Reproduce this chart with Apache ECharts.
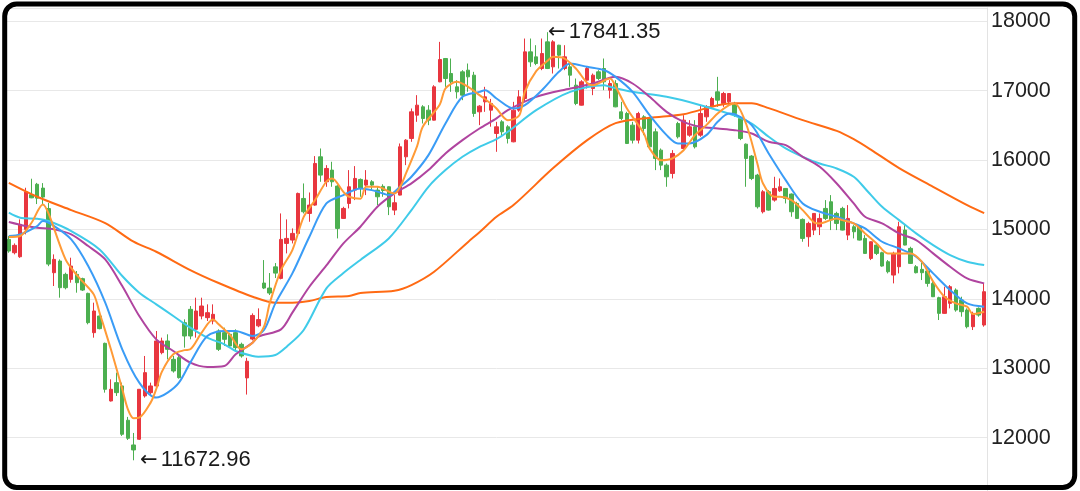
<!DOCTYPE html>
<html><head><meta charset="utf-8">
<script src="https://cdn.jsdelivr.net/npm/echarts@6/dist/echarts.min.js"></script>
<style>html,body{margin:0;padding:0;background:#fff;}#c{width:1080px;height:491px;}</style>
</head><body><div id="c"></div>
<script>
const opens = [14856,14664,14606,15000,15500,15650,15595,15300,14376,14544,14352,14280,14352,14290,14078,13512,13752,13358,12528,12792,12744,12250,11894,11976,12600,12648,12744,13224,13392,13128,13152,13656,13848,13560,13752,13728,13680,13536,13512,13488,13512,13344,12860,13420,13610,14227,14155,14460,14294,14798,14846,14942,15446,15230,15350,16046,15686,15854,15624,15158,15374,15566,15720,15638,15686,15566,15620,15614,15278,15494,16046,16310,16646,16766,16718,16574,17126,17462,17246,17054,17270,17294,17222,16694,16838,16718,16382,16550,16478,16262,16718,16886,17558,17486,17318,17702,17342,17654,17318,17342,17078,16790,17150,17030,17270,17318,17006,17102,16694,16670,16502,16286,16622,16598,16406,16142,15926,15806,16526,16166,16358,16478,16358,16622,16766,16982,16814,16838,16814,16598,16228,16056,15782,15254,15542,15422,15556,15590,15509,15374,15144,14894,14990,15038,15302,15398,15230,15302,14918,15038,15038,14870,14582,14774,14664,14534,14342,14462,14990,14726,14462,14424,14400,14222,14016,13790,13934,14126,13982,13838,13598,13862,13622];
const closes = [14688,14770,15072,15540,15455,15450,15466,14500,14568,14160,14160,14472,14232,14126,13656,13824,13570,12696,12696,12648,12048,11990,11822,12696,12936,12744,13392,13392,13272,12960,12864,13464,13464,13824,13896,13800,13776,13272,13416,13320,13296,13176,13100,13760,13700,14155,14083,14370,14856,14870,14942,15518,15254,15350,15950,15782,15878,15686,15014,15302,15614,15734,15590,15710,15638,15470,15560,15326,15384,16190,16286,16694,16790,16598,16574,17054,17448,17174,17126,16982,16934,17198,16670,16776,16910,16814,16478,16406,16310,16718,16910,17558,17414,17390,17534,17318,17702,17510,17486,17222,16814,17126,17318,17222,17174,17126,17102,16766,16598,16238,16286,16670,16454,16190,16022,15926,15758,16094,16334,16574,16478,16190,16670,16766,16886,16862,16958,16958,16670,16310,16022,15734,15326,15542,15278,15590,15614,15446,15254,15158,14870,15086,15230,15158,15158,15134,15086,14990,15158,14966,14846,14654,14822,14654,14472,14390,14654,15038,14774,14510,14376,14376,14222,14030,13790,14030,14174,13838,13814,13598,13790,13766,14102];
const lows = [14664,14640,14590,14928,15450,15365,15350,14470,14184,14016,14136,14232,14088,14112,13632,13440,13560,12648,12520,12600,12024,11966,11672.96,11966,12576,12600,12696,13200,13128,12936,12850,13296,13416,13440,13704,13680,13632,13248,13320,13296,13248,13152,12620,13400,13590,14140,14054,14300,14280,14654,14798,14930,15230,15110,15340,15686,15614,15614,14870,15150,15302,15422,15470,15494,15566,15350,15470,15206,15206,15490,15926,16262,16550,16526,16502,16570,17120,17054,16982,16886,16862,16982,16622,16502,16694,16480,16118,16334,16238,16255,16694,16838,17342,17366,17294,17310,17246,17318,17294,17054,16790,16785,17030,16934,17150,17006,16886,16760,16574,16230,16238,16238,16358,16166,15854,15854,15614,15734,16310,16142,16334,16166,16334,16550,16742,16766,16766,16790,16622,16286,15614,15710,15300,15230,15270,15400,15540,15374,15182,15150,14822,14750,14918,14918,15134,14990,14990,14985,14846,14870,14840,14650,14558,14630,14462,14366,14222,14366,14770,14505,14366,14270,14174,14025,13694,13785,13862,13814,13742,13574,13550,13742,13598];
const highs = [14904,14798,15144,15600,15730,15670,15667,15380,14640,14568,14376,14592,14400,14304,14088,13944,13760,13368,12840,12936,12792,12298,12067,12700,13176,12792,13536,13440,13488,13176,13176,13704,13896,14016,14016,13920,13920,13560,13584,13512,13560,13368,13150,13790,13862,14558,14371,14515,15230,15144,15014,15530,15662,15532,16056,16166,15926,15974,15638,15326,15854,15912,15734,15854,15710,15614,15650,15620,15494,16238,16300,16742,16934,16790,16790,17078,17702,17470,17462,17150,17294,17390,17270,16790,17054,16880,16550,16574,16502,16838,17006,17750,17750,17654,17750,17841.35,17726,17660,17654,17390,17174,17150,17342,17246,17294,17462,17150,17150,16838,16694,16550,16694,16646,16622,16454,16166,15950,16142,16550,16646,16574,16574,16790,16790,16910,17198,16982,16965,16838,16622,16238,16070,15800,15566,15566,15758,15734,15595,15518,15398,15158,15110,15235,15230,15422,15494,15254,15326,15350,15062,15062,14918,14826,14798,14678,14558,14678,15110,15062,14750,14486,14558,14414,14270,14030,14174,14198,14150,14030,13862,13814,13876,14222];

// moving-average lines as [candle index, value]
const ma5 = [[0,14890],[2,14904],[4,15096],[6,15360],[7,15230],[10,14568],[12,14340],[13,14250],[15,14060],[16,13800],[18,13272],[20,12700],[21,12408],[22,12280],[23,12288],[25,12504],[26,12700],[27,12950],[29,13200],[31,13260],[32,13272],[34,13512],[36,13700],[37,13632],[39,13480],[41,13272],[43,13368],[45,13600],[46,13934],[48,14414],[50,14702],[52,15180],[54,15422],[56,15690],[57,15734],[59,15540],[60,15470],[62,15440],[63,15614],[65,15614],[68,15518],[69,15614],[70,15800],[72,16200],[73,16480],[76,16800],[77,17030],[79,17126],[81,17054],[83,16934],[85,16814],[86,16742],[88,16574],[90,16640],[91,16982],[93,17280],[95,17430],[96,17486],[98,17462],[100,17318],[102,17110],[103,17078],[106,17174],[107,17060],[109,16742],[112,16380],[113,16166],[115,15998],[117,16022],[119,16140],[121,16358],[123,16502],[125,16670],[127,16790],[128,16814],[130,16526],[132,15950],[133,15662],[135,15470],[136,15470],[138,15422],[140,15278],[142,15100],[143,15086],[146,15158],[147,15134],[149,15086],[151,14942],[153,14800],[155,14654],[156,14654],[159,14654],[161,14534],[163,14250],[165,14030],[167,13934],[169,13886],[170,13780],[172,13814]];
const ma10 = [[0,14904],[2,14928],[5,15048],[6,15120],[8,15048],[11,14856],[14,14472],[17,13944],[20,13272],[23,12792],[26,12576],[28,12648],[30,12792],[32,13080],[35,13464],[38,13536],[40,13536],[43,13464],[45,13550],[47,13934],[50,14366],[53,14894],[56,15374],[59,15494],[62,15590],[64,15566],[66,15518],[67,15494],[69,15614],[71,15758],[74,16070],[77,16526],[80,16910],[83,16982],[84,17006],[86,16886],[89,16742],[91,16790],[94,17006],[97,17270],[99,17390],[102,17342],[105,17294],[107,17198],[110,16982],[113,16646],[116,16358],[118,16238],[120,16238],[123,16358],[125,16550],[127,16670],[128,16660],[131,16502],[134,16094],[137,15710],[140,15374],[143,15254],[146,15182],[149,15086],[151,15014],[154,14822],[157,14726],[160,14606],[163,14366],[166,14126],[169,13934],[172,13886]];
const ma20 = [[0,15106],[3,15048],[5,15024],[8,15000],[11,14928],[14,14760],[17,14568],[20,14184],[23,13752],[26,13416],[29,13248],[32,13080],[35,13018],[38,13032],[40,13200],[43,13368],[44,13454],[48,13560],[50,13800],[53,14174],[56,14480],[59,14798],[62,15038],[65,15326],[68,15518],[71,15662],[74,15854],[77,16094],[80,16286],[83,16454],[86,16600],[88,16718],[93,16910],[99,17030],[103,17102],[107,17198],[110,17102],[113,16910],[116,16694],[119,16550],[122,16478],[125,16454],[128,16430],[131,16382],[134,16262],[137,16214],[140,16046],[143,15902],[146,15662],[149,15374],[151,15182],[154,15086],[157,14942],[160,14846],[163,14654],[166,14462],[169,14294],[172,14222]];
const ma30 = [[0,15240],[2,15168],[5,15154],[7,15120],[11,14976],[16,14712],[20,14328],[23,14088],[26,13920],[29,13752],[32,13584],[35,13440],[38,13344],[40,13248],[43,13176],[44,13166],[47,13190],[49,13310],[52,13550],[56,14150],[59,14371],[62,14560],[67,14870],[71,15278],[74,15614],[77,15854],[80,16046],[83,16190],[86,16300],[88,16406],[93,16718],[99,16982],[105,17078],[106,17054],[110,16982],[116,16910],[122,16790],[128,16640],[131,16526],[134,16334],[137,16166],[140,16046],[143,15950],[146,15878],[149,15758],[151,15590],[154,15326],[157,15134],[160,14942],[163,14774],[166,14630],[169,14534],[172,14486]];
const ma60 = [[0,15670],[5,15470],[11,15278],[17,15090],[22,14822],[26,14678],[32,14414],[37,14227],[43,14030],[47,13944],[50,13944],[53,13968],[56,14026],[60,14040],[62,14083],[68,14117],[71,14198],[75,14390],[81,14820],[83,14960],[86,15182],[89,15350],[96,15883],[102,16286],[107,16531],[113,16608],[119,16660],[125,16790],[128,16819],[131,16819],[134,16747],[140,16574],[146,16420],[149,16300],[152,16150],[157,15883],[163,15614],[169,15350],[172,15235]];

const yMin = 11000, yMax = 18190, yStep = 1000;

const categories = opens.map((_, i) => String(i + 1));
const candles = opens.map((o, i) => [o, closes[i], lows[i], highs[i]]);

const chart = echarts.init(document.getElementById('c'), null, {renderer: 'canvas'});
const lineSeries = (name, data, color) => ({
  name, type: 'line', data, symbol: 'none', smooth: 0.3, connectNulls: true,
  lineStyle: {width: 2, color}, itemStyle: {color}, z: 3, silent: true
});
const sansFont = 'Liberation Sans, Arial, Helvetica, DejaVu Sans, sans-serif';
chart.setOption({
  animation: false,
  backgroundColor: '#fff',
  grid: {left: 6, top: 8, width: 981, height: 499, outerBoundsMode: 'none', containLabel: false},
  xAxis: {
    type: 'category', data: categories, boundaryGap: true,
    axisLine: {show: false}, axisTick: {show: false}, axisLabel: {show: false}, splitLine: {show: false}
  },
  yAxis: {
    type: 'value', position: 'right', min: yMin, max: yMax, interval: yStep,
    axisLine: {show: true, lineStyle: {color: '#e3e3e3', width: 1}},
    axisTick: {show: false},
    axisLabel: {margin: 4, showMaxLabel: false, formatter: v => String(v), fontFamily: sansFont, fontSize: 21.5, color: '#222'},
    splitLine: {show: true, lineStyle: {color: '#e8e8e8', width: 1}}
  },
  series: [
    {
      type: 'candlestick', data: candles, barWidth: '70%',
      itemStyle: {color: '#e8363f', color0: '#4caf50', borderColor: '#e8363f', borderColor0: '#4caf50', borderWidth: 1},
      markPoint: {
        symbol: 'circle', symbolSize: 1, itemStyle: {color: 'rgba(0,0,0,0)'},
        label: {
          show: true, position: 'right',
          formatter: p => '{a|\u2190}{b|' + p.value + '}',
          rich: {
            a: {fontFamily: 'DejaVu Sans', fontSize: 21, color: '#1a1a1a'},
            b: {fontFamily: sansFont, fontSize: 22, color: '#1a1a1a', padding: [0, 0, 0, 3]}
          }
        },
        data: [
          {type: 'max', valueDim: 'highest', label: {distance: 0}},
          {type: 'min', valueDim: 'lowest', label: {distance: 6}}
        ]
      }
    },
    lineSeries('MA60', ma60, '#ff6a13'),
    lineSeries('MA30', ma30, '#3fcbe9'),
    lineSeries('MA20', ma20, '#b0449f'),
    lineSeries('MA10', ma10, '#3a9cf6'),
    lineSeries('MA5', ma5, '#ff9a36')
  ],
  graphic: [{
    type: 'rect', z: 100, silent: true,
    shape: {x: 4.7, y: 4, width: 1070, height: 483.5, r: 12},
    style: {fill: 'none', stroke: '#000', lineWidth: 5}
  }]
});
</script></body></html>
